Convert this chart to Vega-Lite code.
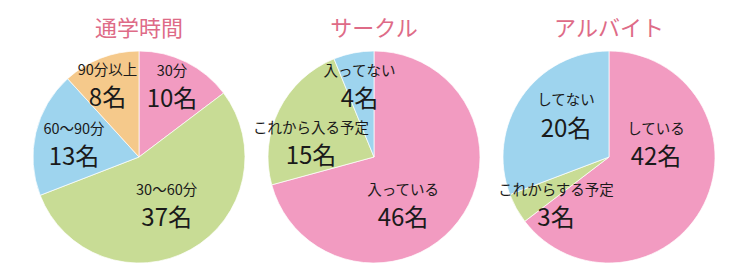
{
  "$schema": "https://vega.github.io/schema/vega-lite/v6.json",
  "background": "white",
  "padding": {"left": 31, "top": 17, "right": 0, "bottom": 0},
  "bounds": "flush",
  "datasets": {
    "commute": [
      {"name": "30分", "count": 10, "label": "10名"},
      {"name": "30〜60分", "count": 37, "label": "37名"},
      {"name": "60〜90分", "count": 13, "label": "13名"},
      {"name": "90分以上", "count": 8, "label": "8名"}
    ],
    "circle": [
      {"name": "入っている", "count": 46, "label": "46名"},
      {"name": "これから入る予定", "count": 15, "label": "15名"},
      {"name": "入ってない", "count": 4, "label": "4名"}
    ],
    "job": [
      {"name": "している", "count": 42, "label": "42名"},
      {"name": "これからする予定", "count": 3, "label": "3名"},
      {"name": "してない", "count": 20, "label": "20名"}
    ]
  },
  "spacing": 23,
  "resolve": {"scale": {"color": "independent", "theta": "independent"}},
  "hconcat": [
    {
      "width": 212, "height": 212,
      "title": {"text": "通学時間"},
      "data": {"name": "commute"},
      "transform": [{"window": [{"op": "row_number", "as": "idx"}]}],
      "encoding": {
        "theta": {"field": "count", "type": "quantitative", "stack": true},
        "order": {"field": "idx", "type": "quantitative"},
        "detail": {"field": "name", "type": "nominal"}
      },
      "layer": [
        {"mark": {"type": "arc", "stroke": "#ffffff", "strokeWidth": 0.7},
         "encoding": {"color": {"field": "name", "type": "nominal", "legend": null,
           "scale": {"domain": ["30分", "30〜60分", "60〜90分", "90分以上"], "range": ["#f29bc1", "#c8dc95", "#9ed4ee", "#f5c98b"]}}}},
        {"mark": {"type": "text", "radius": 65, "dx": 4, "dy": -27.3, "fontSize": 14.5},
         "encoding": {"text": {"condition": {"test": "datum.name === '30分'", "field": "name"}, "value": ""}}},
        {"mark": {"type": "text", "radius": 65, "dx": 4, "dy": 0.7, "fontSize": 24},
         "encoding": {"text": {"condition": {"test": "datum.name === '30分'", "field": "label"}, "value": ""}}},
        {"mark": {"type": "text", "radius": 65, "dx": -4, "dy": -22.3, "fontSize": 14.5},
         "encoding": {"text": {"condition": {"test": "datum.name === '30〜60分'", "field": "name"}, "value": ""}}},
        {"mark": {"type": "text", "radius": 65, "dx": -4, "dy": 5.7, "fontSize": 24},
         "encoding": {"text": {"condition": {"test": "datum.name === '30〜60分'", "field": "label"}, "value": ""}}},
        {"mark": {"type": "text", "radius": 65, "dx": -1.7, "dy": -12.6, "fontSize": 14.5},
         "encoding": {"text": {"condition": {"test": "datum.name === '60〜90分'", "field": "name"}, "value": ""}}},
        {"mark": {"type": "text", "radius": 65, "dx": -1.7, "dy": 15.4, "fontSize": 24},
         "encoding": {"text": {"condition": {"test": "datum.name === '60〜90分'", "field": "label"}, "value": ""}}},
        {"mark": {"type": "text", "radius": 65, "dx": -8, "dy": -24.9, "fontSize": 14.5},
         "encoding": {"text": {"condition": {"test": "datum.name === '90分以上'", "field": "name"}, "value": ""}}},
        {"mark": {"type": "text", "radius": 65, "dx": -8, "dy": 3.1, "fontSize": 24},
         "encoding": {"text": {"condition": {"test": "datum.name === '90分以上'", "field": "label"}, "value": ""}}}
      ]
    },
    {
      "width": 212, "height": 212,
      "title": {"text": "サークル"},
      "data": {"name": "circle"},
      "transform": [{"window": [{"op": "row_number", "as": "idx"}]}],
      "encoding": {
        "theta": {"field": "count", "type": "quantitative", "stack": true},
        "order": {"field": "idx", "type": "quantitative"},
        "detail": {"field": "name", "type": "nominal"}
      },
      "layer": [
        {"mark": {"type": "arc", "stroke": "#ffffff", "strokeWidth": 0.7},
         "encoding": {"color": {"field": "name", "type": "nominal", "legend": null,
           "scale": {"domain": ["入っている", "これから入る予定", "入ってない"], "range": ["#f29bc1", "#c8dc95", "#9ed4ee"]}}}},
        {"mark": {"type": "text", "radius": 65, "dx": -22.6, "dy": -5, "fontSize": 14.5},
         "encoding": {"text": {"condition": {"test": "datum.name === '入っている'", "field": "name"}, "value": ""}}},
        {"mark": {"type": "text", "radius": 65, "dx": -22.6, "dy": 23, "fontSize": 24},
         "encoding": {"text": {"condition": {"test": "datum.name === '入っている'", "field": "label"}, "value": ""}}},
        {"mark": {"type": "text", "radius": 65, "dx": -4.7, "dy": 1.3, "fontSize": 14.5},
         "encoding": {"text": {"condition": {"test": "datum.name === 'これから入る予定'", "field": "name"}, "value": ""}}},
        {"mark": {"type": "text", "radius": 65, "dx": -4.7, "dy": 29.3, "fontSize": 24},
         "encoding": {"text": {"condition": {"test": "datum.name === 'これから入る予定'", "field": "label"}, "value": ""}}},
        {"mark": {"type": "text", "radius": 65, "dx": -2, "dy": -21.7, "fontSize": 14.5},
         "encoding": {"text": {"condition": {"test": "datum.name === '入ってない'", "field": "name"}, "value": ""}}},
        {"mark": {"type": "text", "radius": 65, "dx": -2, "dy": 6.3, "fontSize": 24},
         "encoding": {"text": {"condition": {"test": "datum.name === '入ってない'", "field": "label"}, "value": ""}}}
      ]
    },
    {
      "width": 212, "height": 212,
      "title": {"text": "アルバイト"},
      "data": {"name": "job"},
      "transform": [{"window": [{"op": "row_number", "as": "idx"}]}],
      "encoding": {
        "theta": {"field": "count", "type": "quantitative", "stack": true},
        "order": {"field": "idx", "type": "quantitative"},
        "detail": {"field": "name", "type": "nominal"}
      },
      "layer": [
        {"mark": {"type": "arc", "stroke": "#ffffff", "strokeWidth": 0.7},
         "encoding": {"color": {"field": "name", "type": "nominal", "legend": null,
           "scale": {"domain": ["している", "これからする予定", "してない"], "range": ["#f29bc1", "#c8dc95", "#9ed4ee"]}}}},
        {"mark": {"type": "text", "radius": 65, "dx": -11.3, "dy": -56.3, "fontSize": 14.5},
         "encoding": {"text": {"condition": {"test": "datum.name === 'している'", "field": "name"}, "value": ""}}},
        {"mark": {"type": "text", "radius": 65, "dx": -11.3, "dy": -28.3, "fontSize": 24},
         "encoding": {"text": {"condition": {"test": "datum.name === 'している'", "field": "label"}, "value": ""}}},
        {"mark": {"type": "text", "radius": 65, "dx": 3.8, "dy": 2.9, "fontSize": 14.5},
         "encoding": {"text": {"condition": {"test": "datum.name === 'これからする予定'", "field": "name"}, "value": ""}}},
        {"mark": {"type": "text", "radius": 65, "dx": 3.8, "dy": 30.9, "fontSize": 24},
         "encoding": {"text": {"condition": {"test": "datum.name === 'これからする予定'", "field": "label"}, "value": ""}}},
        {"mark": {"type": "text", "radius": 65, "dx": 10.5, "dy": -18.6, "fontSize": 14.5},
         "encoding": {"text": {"condition": {"test": "datum.name === 'してない'", "field": "name"}, "value": ""}}},
        {"mark": {"type": "text", "radius": 65, "dx": 10.5, "dy": 9.6, "fontSize": 24},
         "encoding": {"text": {"condition": {"test": "datum.name === 'してない'", "field": "label"}, "value": ""}}}
      ]
    }
  ],
  "config": {
    "view": {"stroke": null},
    "title": {"font": "Noto Sans CJK JP", "fontSize": 22, "fontWeight": "normal", "color": "#de6b87", "anchor": "middle", "baseline": "bottom", "offset": 9},
    "text": {"font": "Noto Sans CJK JP", "color": "#1a1a1a", "baseline": "middle", "align": "center"}
  }
}
